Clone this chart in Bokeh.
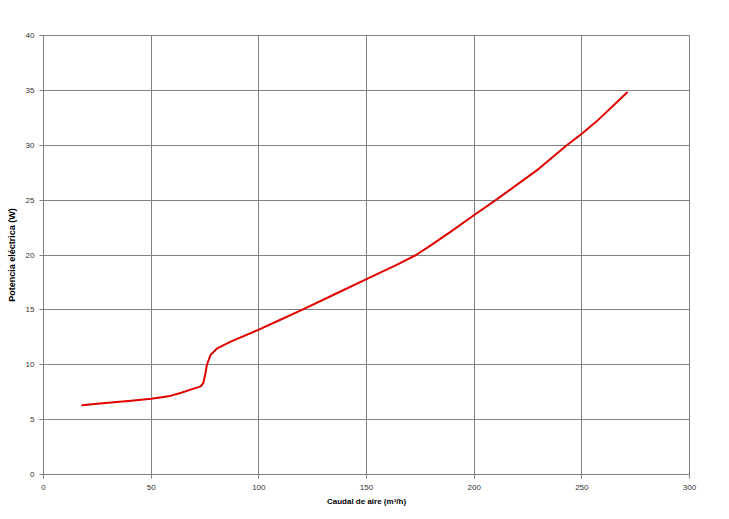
from bokeh.plotting import figure
from bokeh.embed import file_html
from bokeh.resources import INLINE
from bokeh.models import Range1d, FixedTicker

caudal = [18, 25, 34, 42, 50, 58, 64, 69, 73, 74.2, 75.2, 75.9, 77.6, 80.7, 86.9, 100, 110, 120, 135, 150,
          164, 173, 180, 190, 200, 210, 230, 243, 250, 257, 271]
potencia = [6.3, 6.45, 6.6, 6.75, 6.9, 7.12, 7.45, 7.78, 8.03, 8.33, 9.2, 10.0, 10.9, 11.5, 12.1, 13.2, 14.1, 15.0, 16.4, 17.8,
            19.1, 20.0, 20.9, 22.25, 23.65, 25.0, 27.85, 30.0, 31.05, 32.2, 34.8]
x_ticks = [0, 50, 100, 150, 200, 250, 300]
y_ticks = [0, 5, 10, 15, 20, 25, 30, 35, 40]

p = figure(width=713, height=508, output_backend="svg", toolbar_location=None,
           x_range=Range1d(0, 300), y_range=Range1d(0, 40),
           min_border_left=43, min_border_right=24, min_border_top=35, min_border_bottom=33)

p.line(caudal, potencia, line_color="#e00000", line_width=2, line_join="round", line_cap="round")

FONT = "Liberation Sans"
for ax in (p.xaxis[0], p.yaxis[0]):
    ax.axis_line_color = "#808080"
    ax.major_tick_line_color = "#808080"
    ax.minor_tick_line_color = None
    ax.major_tick_in = 0
    ax.major_tick_out = 4
    ax.major_label_text_font = FONT
    ax.major_label_text_font_size = "8px"
    ax.major_label_text_color = "#333333"
    ax.axis_label_text_font = FONT
    ax.axis_label_text_font_style = "bold"
    ax.axis_label_text_color = "#000000"

p.xaxis.ticker = FixedTicker(ticks=x_ticks)
p.yaxis.ticker = FixedTicker(ticks=y_ticks)
p.xaxis.axis_label = "Caudal de aire (m³/h)"
p.yaxis.axis_label = "Potencia eléctrica (W)"
p.xaxis.axis_label_text_font_size = "8px"
p.yaxis.axis_label_text_font_size = "9px"
p.xaxis.major_label_standoff = 6
p.xaxis.axis_label_standoff = 4
p.yaxis.axis_label_standoff = 6
p.yaxis.major_label_orientation = "horizontal"

p.xgrid.grid_line_color = "#808080"
p.ygrid.grid_line_color = "#808080"
p.xgrid.ticker = FixedTicker(ticks=x_ticks)
p.ygrid.ticker = FixedTicker(ticks=y_ticks)
p.outline_line_color = "#808080"
p.background_fill_color = "white"
p.border_fill_color = "white"

open("out.html", "w").write(file_html(p, INLINE))
